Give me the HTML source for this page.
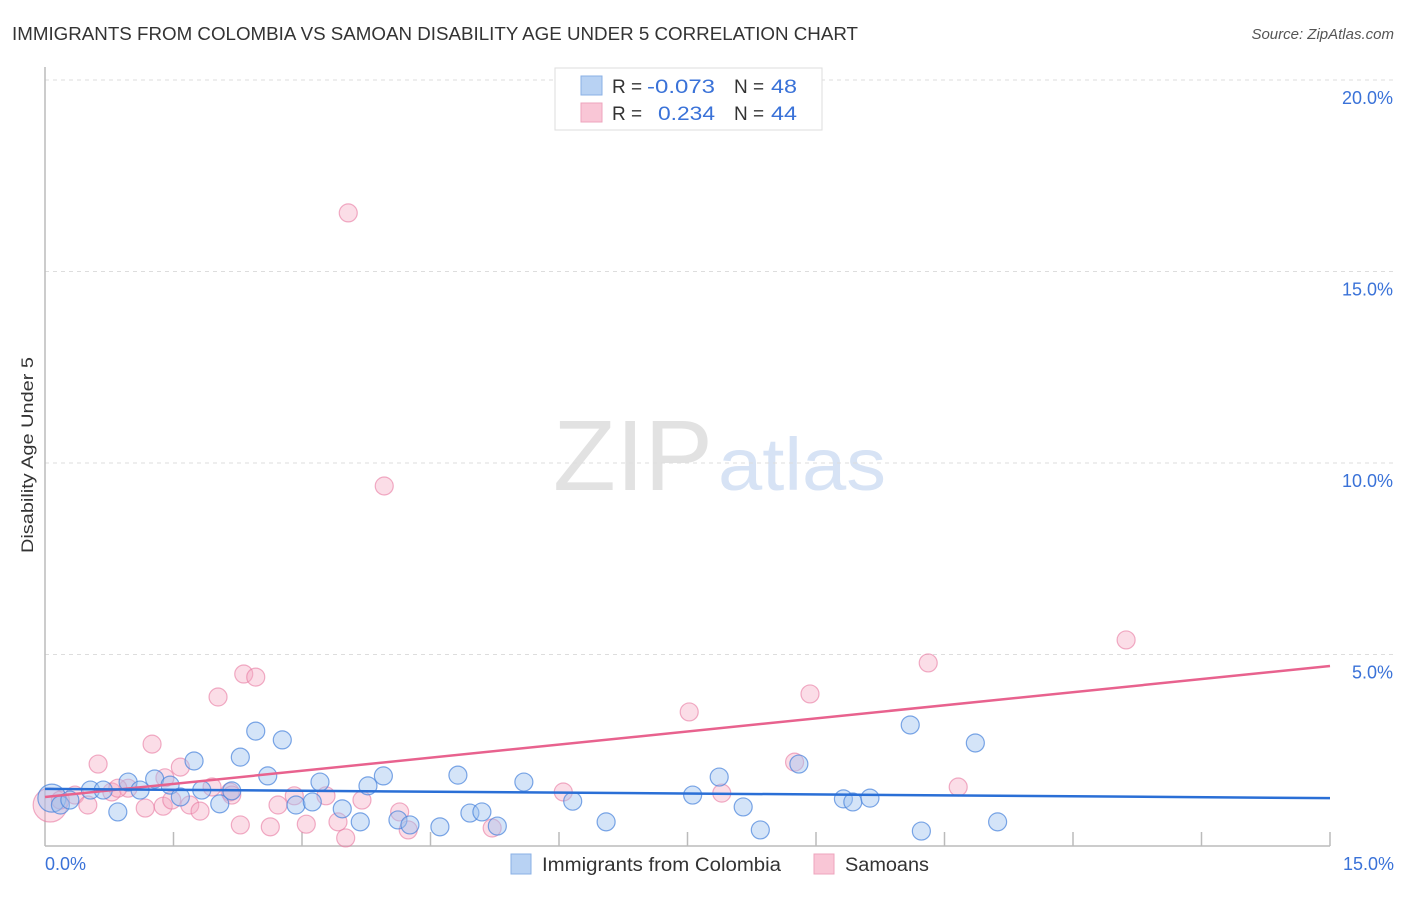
<!DOCTYPE html>
<html><head><meta charset="utf-8">
<style>
body{margin:0;background:#fff;font-family:"Liberation Sans",sans-serif;}
svg text{font-family:"Liberation Sans",sans-serif;}
</style></head>
<body>
<svg id="chart" width="1406" height="892" viewBox="0 0 1406 892" xmlns="http://www.w3.org/2000/svg">
<text x="12" y="40" font-size="18" fill="#333" textLength="846" lengthAdjust="spacingAndGlyphs">IMMIGRANTS FROM COLOMBIA VS SAMOAN DISABILITY AGE UNDER 5 CORRELATION CHART</text>
<text x="1394" y="39" font-size="15" fill="#555" font-style="italic" text-anchor="end">Source: ZipAtlas.com</text>
<g>
<text x="553" y="490" font-size="100" fill="#e2e2e2" font-family="Liberation Serif, serif" textLength="160" lengthAdjust="spacingAndGlyphs">ZIP</text>
<text x="718" y="490" font-size="74" fill="#d7e3f5" textLength="168" lengthAdjust="spacingAndGlyphs">atlas</text>
</g>
<g id="grid"></g>
<line x1="45" y1="67" x2="45" y2="846" stroke="#bbb" stroke-width="1.5"/>
<line x1="45" y1="846" x2="1330" y2="846" stroke="#bbb" stroke-width="1.5"/>
<g id="xticks"></g>
<text transform="translate(33,455) rotate(-90)" font-size="17" fill="#333" text-anchor="middle" textLength="196" lengthAdjust="spacingAndGlyphs">Disability Age Under 5</text>
<text x="45" y="870" font-size="18" fill="#3a72d8">0.0%</text>
<text x="1394" y="870" font-size="18" fill="#3a72d8" text-anchor="end">15.0%</text>
<g id="pink"></g>
<g id="blue"></g>
<g id="trends"></g>
<g>
<rect x="555" y="68" width="267" height="62" fill="#fff" stroke="#ddd"/>
<rect x="581" y="76" width="21" height="19" fill="#b8d2f3" stroke="#8ab0e6"/>
<rect x="581" y="103" width="21" height="19" fill="#f9c6d6" stroke="#eea4bd"/>
<text x="612" y="93" font-size="19" fill="#333">R =</text>
<text x="647" y="93" font-size="19" fill="#3a72d8" textLength="68" lengthAdjust="spacingAndGlyphs">-0.073</text>
<text x="734" y="93" font-size="19" fill="#333">N =</text>
<text x="771" y="93" font-size="19" fill="#3a72d8" textLength="26" lengthAdjust="spacingAndGlyphs">48</text>
<text x="612" y="120" font-size="19" fill="#333">R =</text>
<text x="658" y="120" font-size="19" fill="#3a72d8" textLength="57" lengthAdjust="spacingAndGlyphs">0.234</text>
<text x="734" y="120" font-size="19" fill="#333">N =</text>
<text x="771" y="120" font-size="19" fill="#3a72d8" textLength="26" lengthAdjust="spacingAndGlyphs">44</text>
</g>
<g>
<rect x="511" y="854" width="20" height="20" fill="#b8d2f3" stroke="#8ab0e6"/>
<text x="542" y="871" font-size="19" fill="#333" textLength="239" lengthAdjust="spacingAndGlyphs">Immigrants from Colombia</text>
<rect x="814" y="854" width="20" height="20" fill="#f9c6d6" stroke="#eea4bd"/>
<text x="845" y="871" font-size="19" fill="#333" textLength="84" lengthAdjust="spacingAndGlyphs">Samoans</text>
</g>
</svg>
<script>
const yTicks=[5,10,15,20];
const yTickLabels=["5.0%","10.0%","15.0%","20.0%"];
const xTicks=[1.5,3,4.5,6,7.5,9,10.5,12,13.5,15];
const blueX=[0.08,0.18,0.29,0.53,0.85,0.68,0.97,1.11,1.28,1.46,1.58,1.74,1.83,2.04,2.18,2.28,2.46,2.60,2.77,2.93,3.12,3.21,3.47,3.68,3.77,3.95,4.12,4.26,4.61,4.82,4.96,5.10,5.28,5.59,6.16,6.55,7.56,7.87,8.15,8.35,8.80,9.32,9.43,9.63,10.10,10.23,10.86,11.12];
const blueY=[1.25,1.07,1.20,1.46,0.89,1.46,1.67,1.46,1.75,1.59,1.28,2.22,1.46,1.10,1.44,2.32,3.00,1.83,2.77,1.07,1.15,1.67,0.97,0.63,1.57,1.83,0.68,0.55,0.50,1.85,0.86,0.89,0.52,1.67,1.17,0.63,1.33,1.80,1.02,0.42,2.14,1.23,1.15,1.25,3.16,0.39,2.69,0.63];
const pinkX=[0.06,0.18,0.35,0.50,0.62,0.78,0.97,1.17,1.25,1.38,1.48,1.58,1.69,1.81,1.95,2.02,2.16,2.28,2.32,2.46,2.63,2.72,2.91,3.05,3.28,3.42,3.51,3.54,3.70,3.96,4.14,4.24,5.22,6.05,7.52,7.90,8.75,8.93,10.31,10.66,12.62,0.85,1.40,2.18];
const pinkY=[1.07,1.20,1.33,1.07,2.14,1.41,1.51,0.99,2.66,1.04,1.20,2.06,1.07,0.91,1.54,3.89,1.41,0.55,4.49,4.41,0.50,1.07,1.31,0.57,1.31,0.63,0.21,16.53,1.20,9.40,0.89,0.42,0.47,1.41,3.50,1.38,2.19,3.97,4.78,1.54,5.38,1.51,1.78,1.33];
const blueTrend=[1.49,1.25];
const pinkTrend=[1.28,4.70];
const trendX=[0,15];

const NS="http://www.w3.org/2000/svg";
const sx=v=>45+v/15*1285;
const sy=v=>846-v/5*191.5;
function mk(tag,attrs,parent){const e=document.createElementNS(NS,tag);for(const k in attrs)e.setAttribute(k,attrs[k]);parent.appendChild(e);return e;}
const grid=document.getElementById('grid');
yTicks.forEach((t,i)=>{
  const l=mk('line',{x1:45,x2:1393,y1:sy(t),y2:sy(t),stroke:'#ddd','stroke-dasharray':'4,4'},grid);
  
  
  const tx=mk('text',{x:1393,y:sy(t)+24,'font-size':18,fill:'#3a72d8','text-anchor':'end'},grid);
  tx.textContent=yTickLabels[i];
  
  
});
const xt=document.getElementById('xticks');
xTicks.forEach(t=>{
  const l=mk('line',{x1:sx(t),x2:sx(t),y1:832,y2:846,stroke:'#bbb','stroke-width':1.5},xt);
  
  
});
const pg=document.getElementById('pink');
pinkX.forEach((x,i)=>{
  const c=mk('circle',{cx:sx(x),cy:sy(pinkY[i]),r:i===0?17:9,fill:'rgba(246,170,196,0.4)',stroke:'rgba(232,120,160,0.6)','stroke-width':1.2},pg);
  
  
});
const bg=document.getElementById('blue');
blueX.forEach((x,i)=>{
  const c=mk('circle',{cx:sx(x),cy:sy(blueY[i]),r:i===0?14:9,fill:'rgba(160,195,240,0.45)',stroke:'rgba(70,130,220,0.7)','stroke-width':1.2},bg);
  
  
});
const tg=document.getElementById('trends');
const pl=mk('line',{x1:sx(trendX[0]),y1:sy(pinkTrend[0]),x2:sx(trendX[1]),y2:sy(pinkTrend[1]),stroke:'#e8628e','stroke-width':2.5},tg);


const bl=mk('line',{x1:sx(trendX[0]),y1:sy(blueTrend[0]),x2:sx(trendX[1]),y2:sy(blueTrend[1]),stroke:'#2a6fd6','stroke-width':2.5},tg);


</script>
</body></html>
